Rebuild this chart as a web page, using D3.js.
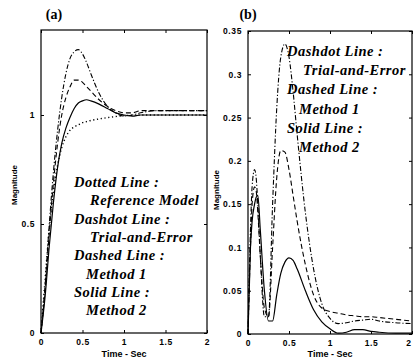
<!DOCTYPE html>
<html>
<head>
<meta charset="utf-8">
<script src="https://cdn.jsdelivr.net/npm/d3@7"></script>
<style>
  body { margin: 0; background: #fff; }
  .tick text { font-family: "Liberation Sans", Arial, sans-serif; font-weight: bold; font-size: 8.5px; letter-spacing: 0.6px; }
  .legend { font-family: "Liberation Serif", "Times New Roman", serif; font-weight: bold; font-style: italic; font-size: 14.5px; letter-spacing: 0.5px; }
  .lab { font-family: "Liberation Sans", Arial, sans-serif; font-weight: bold; font-size: 9px; }
  .title { font-family: "Liberation Serif", serif; font-weight: bold; font-size: 14px; }
</style>
</head>
<body>
<div id="chart"></div>
<script>
// panel (a): step responses
const timeA = [0, 0.05, 0.1, 0.15, 0.2, 0.25, 0.3, 0.35, 0.4, 0.45, 0.5, 0.55, 0.6, 0.7, 0.8, 0.9, 1.0, 1.1, 1.2, 1.4, 1.6, 1.8, 2.0];
const refModel = [0, 0.25, 0.48, 0.65, 0.77, 0.85, 0.9, 0.93, 0.945, 0.955, 0.965, 0.97, 0.975, 0.982, 0.988, 0.993, 0.997, 0.999, 1, 1, 1, 1, 1];
const trialA   = [0, 0.22, 0.5, 0.74, 0.93, 1.08, 1.19, 1.26, 1.29, 1.3, 1.28, 1.24, 1.19, 1.1, 1.04, 1.01, 0.995, 1.0, 1.01, 1.02, 1.02, 1.02, 1.02];
const method1A = [0, 0.2, 0.46, 0.69, 0.87, 1.0, 1.08, 1.13, 1.16, 1.16, 1.15, 1.13, 1.11, 1.07, 1.04, 1.02, 1.01, 1.01, 1.02, 1.02, 1.02, 1.02, 1.02];
const method2A = [0, 0.17, 0.4, 0.6, 0.76, 0.87, 0.94, 0.99, 1.03, 1.055, 1.065, 1.07, 1.065, 1.05, 1.03, 1.01, 1.0, 0.995, 1.0, 1.0, 1.0, 1.0, 1.0];

// panel (b): error magnitudes
const timeB = [0, 0.03, 0.05, 0.08, 0.1, 0.12, 0.15, 0.2, 0.25, 0.3, 0.35, 0.4, 0.45, 0.5, 0.55, 0.6, 0.7, 0.8, 0.9, 1.0, 1.1, 1.2, 1.3, 1.4, 1.5, 1.6, 1.8, 2.0];
const trialB   = [0, 0.12, 0.17, 0.19, 0.18, 0.15, 0.09, 0.02, 0.02, 0.15, 0.26, 0.32, 0.335, 0.32, 0.28, 0.23, 0.14, 0.075, 0.035, 0.018, 0.012, 0.013, 0.015, 0.016, 0.017, 0.015, 0.013, 0.012];
const method1B = [0, 0.1, 0.15, 0.17, 0.165, 0.14, 0.09, 0.03, 0.02, 0.1, 0.18, 0.212, 0.21, 0.19, 0.16, 0.13, 0.08, 0.045, 0.03, 0.026, 0.024, 0.022, 0.021, 0.02, 0.02, 0.019, 0.017, 0.015];
const method2B = [0, 0.1, 0.13, 0.15, 0.158, 0.16, 0.12, 0.05, 0.015, 0.015, 0.045, 0.07, 0.083, 0.088, 0.085, 0.075, 0.05, 0.028, 0.014, 0.006, 0.001, 0.002, 0.005, 0.005, 0.003, 0.002, 0.001, 0.001];

const xTicks = [0, 0.5, 1, 1.5, 2];
const yTicksA = [0, 0.5, 1];
const yTicksB = [0, 0.05, 0.1, 0.15, 0.2, 0.25, 0.3, 0.35];

const legendA = [
  ["Dotted Line :", 0], ["Reference Model", 1],
  ["Dashdot Line :", 0], ["Trial-and-Error", 1],
  ["Dashed Line :", 0], ["Method 1", 2],
  ["Solid Line :", 0], ["Method 2", 2]
];
const legendB = [
  ["Dashdot Line :", 0], ["Trial-and-Error", 1],
  ["Dashed Line :", 0], ["Method 1", 2],
  ["Solid Line :", 0], ["Method 2", 2]
];

const W = 413, H = 364;
const svg = d3.select('#chart').append('svg').attr('width', W).attr('height', H);

const styles = {
  dotted:  { dash: '1.2,2.6', w: 1.4 },
  dashdot: { dash: '5,2,1.2,2', w: 1.1 },
  dashed:  { dash: '5,3', w: 1.1 },
  solid:   { dash: null, w: 1.2 }
};

function panel(opts) {
  const { left, right, top, bottom, yMax, yTicks, series, time, title, legend, legendPos } = opts;
  const x = d3.scaleLinear().domain([0, 2]).range([left, right]);
  const y = d3.scaleLinear().domain([0, yMax]).range([bottom, top]);
  const g = svg.append('g');

  // box
  g.append('rect').attr('x', left).attr('y', top).attr('width', right - left).attr('height', bottom - top)
    .attr('fill', 'none').attr('stroke', '#000').attr('stroke-width', 1.2);

  const ax = (gen, tr) => g.append('g').attr('transform', tr).call(gen)
    .call(s => s.select('.domain').remove())
    .call(s => s.selectAll('line').attr('stroke', '#000').attr('stroke-width', 1));

  const bx = ax(d3.axisBottom(x).tickValues(xTicks).tickSize(-3).tickPadding(6).tickFormat(d3.format('')), `translate(0,${bottom})`);
  // keep the last label inside the window
  bx.selectAll('.tick text').filter(d => d === 2 && right > 408).attr('text-anchor', 'end').attr('dx', -1);
  ax(d3.axisTop(x).tickValues(xTicks).tickSize(-3).tickFormat(''), `translate(0,${top})`);
  ax(d3.axisLeft(y).tickValues(yTicks).tickSize(-3).tickPadding(6).tickFormat(d3.format('')), `translate(${left},0)`);
  ax(d3.axisRight(y).tickValues(yTicks).tickSize(-3).tickFormat(''), `translate(${right},0)`);

  const line = d3.line().x((d, i) => x(time[i])).y(d => y(d)).curve(d3.curveMonotoneX);
  series.forEach(s => {
    g.append('path').datum(s.values)
      .attr('fill', 'none').attr('stroke', '#000')
      .attr('stroke-width', styles[s.style].w)
      .attr('stroke-dasharray', styles[s.style].dash)
      .attr('d', line);
  });

  g.append('text').attr('class', 'title').attr('x', opts.titleX).attr('y', 19)
    .attr('text-anchor', 'middle').text(title);

  g.append('text').attr('class', 'lab').attr('x', (left + right) / 2).attr('y', 357)
    .attr('text-anchor', 'middle').text('Time - Sec');

  g.append('text').attr('class', 'lab').attr('transform', `translate(${opts.yLabX},${opts.yLabY}) rotate(-90)`)
    .attr('text-anchor', 'middle').style('font-size', '8px').text('Magnitude');

  legend.forEach((d, i) => {
    g.append('text').attr('class', 'legend')
      .attr('x', legendPos.x + [0, 16, 12][d[1]])
      .attr('y', legendPos.y + i * legendPos.dy)
      .text(d[0]);
  });
}

panel({
  left: 41, right: 207, top: 30, bottom: 333, yMax: 1.39,
  yTicks: yTicksA,
  time: timeA,
  series: [
    { values: refModel, style: 'dotted' },
    { values: trialA, style: 'dashdot' },
    { values: method1A, style: 'dashed' },
    { values: method2A, style: 'solid' }
  ],
  title: '(a)', titleX: 54, legend: legendA, legendPos: { x: 74, y: 187, dy: 18.3 },
  yLabX: 17, yLabY: 185
});

panel({
  left: 248, right: 412, top: 31, bottom: 334, yMax: 0.35,
  yTicks: yTicksB,
  time: timeB,
  series: [
    { values: trialB, style: 'dashdot' },
    { values: method1B, style: 'dashed' },
    { values: method2B, style: 'solid' }
  ],
  title: '(b)', titleX: 248, legend: legendB, legendPos: { x: 287, y: 56, dy: 19.2 },
  yLabX: 219, yLabY: 190
});
</script>
</body>
</html>
